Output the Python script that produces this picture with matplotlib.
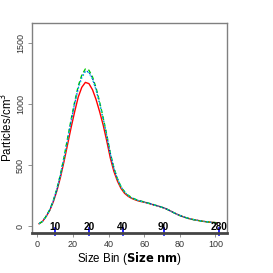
import matplotlib
matplotlib.use("Agg")
import matplotlib.pyplot as plt
import numpy as np

plt.rcParams['font.family'] = ['Liberation Sans', 'DejaVu Sans']

bins = [1, 3, 5, 7, 9, 11, 13, 15, 17, 19, 21, 23, 25, 27, 29, 31, 33, 35, 37, 39,
        41, 43, 45, 47, 49, 51, 53, 55, 57, 59, 61, 63, 65, 67, 69, 71, 73, 75, 77, 79,
        81, 83, 85, 87, 89, 91, 93, 95, 97, 99, 101]
red = [20, 40, 80, 130, 200, 290, 400, 530, 670, 810, 940, 1060, 1140, 1180, 1170, 1120, 1040, 940, 830, 700,
       560, 450, 370, 310, 270, 245, 228, 216, 206, 200, 193, 185, 176, 168, 160, 150, 138, 123, 108, 94,
       82, 72, 63, 56, 50, 45, 40, 36, 33, 30, 28]
green = [20, 40, 82, 135, 210, 305, 425, 565, 720, 875, 1020, 1150, 1240, 1290, 1280, 1225, 1135, 1020, 890, 750,
         600, 480, 390, 325, 282, 254, 235, 221, 210, 203, 195, 187, 178, 169, 160, 150, 138, 123, 108, 94,
         82, 72, 63, 56, 50, 45, 40, 36, 33, 30, 28]
blue = [20, 40, 81, 134, 208, 302, 420, 558, 712, 865, 1008, 1135, 1225, 1275, 1266, 1212, 1124, 1010, 882, 744,
        596, 477, 388, 323, 280, 252, 233, 220, 209, 202, 194, 186, 177, 169, 160, 150, 138, 123, 108, 94,
        82, 72, 63, 56, 50, 45, 40, 36, 33, 30, 28]
cyan = [20, 40, 81, 133, 206, 300, 416, 552, 705, 858, 1000, 1128, 1218, 1268, 1260, 1206, 1119, 1005, 878, 740,
        593, 475, 386, 321, 279, 251, 232, 219, 208, 201, 193, 185, 177, 168, 160, 150, 138, 123, 108, 94,
        82, 72, 63, 56, 50, 45, 40, 36, 33, 30, 28]

size_bins = [10, 29, 48, 71, 102]
size_labels = ['10', '20', '40', '90', '280']
xticks = [0, 20, 40, 60, 80, 100]
yticks = [0, 500, 1000, 1500]

fig = plt.figure(figsize=(2.73, 2.73), dpi=100)
ax = fig.add_axes([0.117, 0.147, 0.713, 0.769])

ax.plot(bins, red, color='#FF0000', lw=1.0, ls='-')
ax.plot(bins, green, color='#00CD00', lw=1.0, ls=(0, (3, 2)))
ax.plot(bins, blue, color='#0000FF', lw=0.8, ls=(0, (1, 2)))
ax.plot(bins, cyan, color='#00CCCC', lw=1.0, ls=(0, (1, 1.5)))

ax.set_xlim(-3, 106.3)
ax.set_ylim(-55, 1668)

ax.set_xticks(xticks)
ax.set_yticks(yticks)
ax.tick_params(axis='both', labelsize=6.5, color='#808080', length=3, width=0.6,
               labelcolor='#333333', pad=2)
for lab in ax.get_yticklabels():
    lab.set_rotation(90)
    lab.set_va('center')

for side in ['left', 'top', 'right']:
    ax.spines[side].set_color('#808080')
    ax.spines[side].set_linewidth(1.0)
ax.spines['bottom'].set_color('#444444')
ax.spines['bottom'].set_linewidth(2.0)

trans = ax.get_xaxis_transform()
for b, lab in zip(size_bins, size_labels):
    ax.plot([b, b], [-0.012, 0.022], transform=trans, color='#0000FF', lw=1.2, clip_on=False)
    ax.text(b, 0.004, lab, transform=trans, ha='center', va='bottom', fontsize=7.3,
            fontweight='bold', color='black', clip_on=False)

ax.set_xlabel('Size Bin ($\\bf{Size\\ nm}$)', fontsize=8.3, labelpad=1)
ax.set_ylabel('Particles/cm$^3$', fontsize=8.3)
ax.yaxis.set_label_coords(-0.085, 0.5)

fig.savefig('out.png', dpi=100)
